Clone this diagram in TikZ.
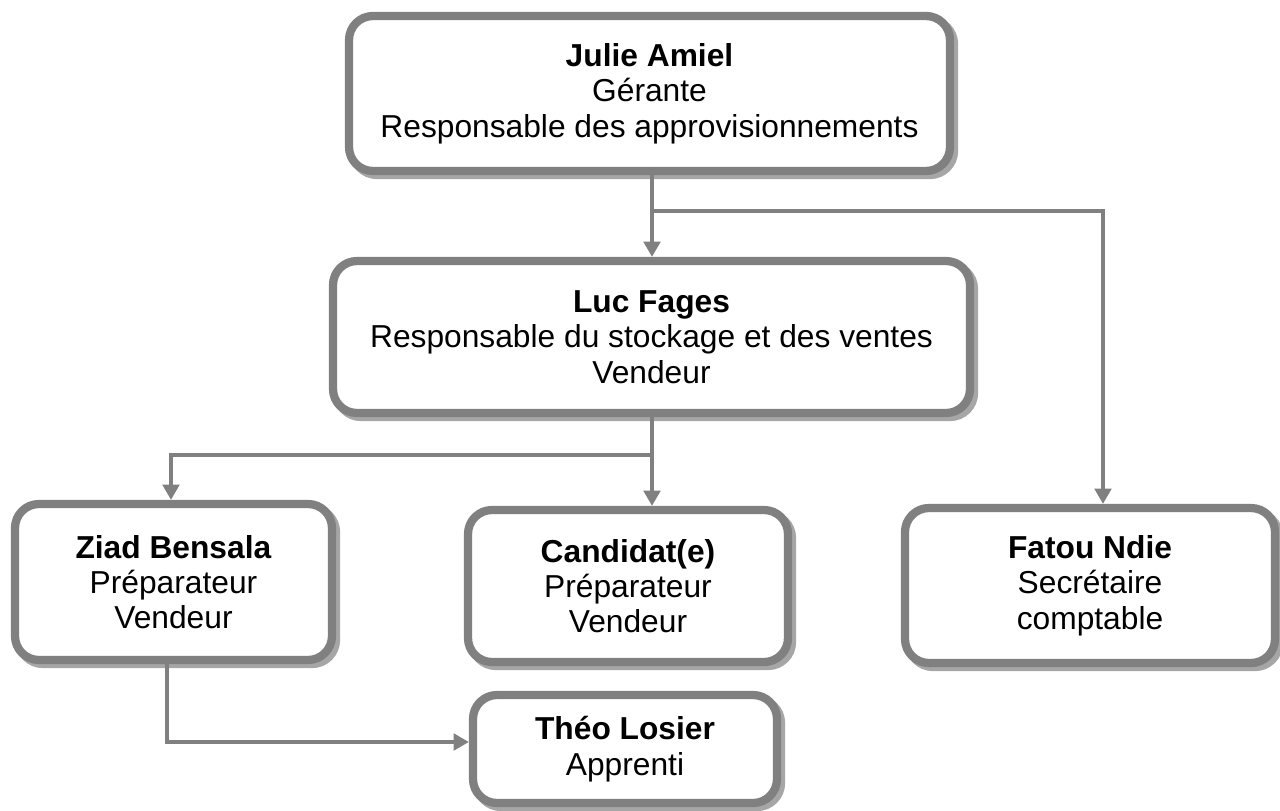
\documentclass[tikz,border=0pt]{standalone}
\usepackage{fontspec}
\setmainfont{Liberation Sans}
\usetikzlibrary{arrows.meta,shadows}
\definecolor{bordc}{RGB}{128,128,128}
\definecolor{shadc}{RGB}{166,166,166}
\tikzset{
  person/.style={draw=bordc, line width=6.2pt, fill=white, rounded corners=18pt,
    align=center, inner sep=0pt, font=\fontsize{23.8pt}{26.5pt}\selectfont,
    general shadow={shadow xshift=3pt, shadow yshift=-3pt, draw=shadc, line width=6.2pt, fill=none}},
  link/.style={draw=bordc, line width=2.5pt},
  arr/.style={link, -{Triangle[width=12.5pt,length=11.5pt]}}
}
\begin{document}
\begin{tikzpicture}[x=0.75pt,y=-0.75pt]
\useasboundingbox (0,0) rectangle (1280,810);
\node[person, minimum width=601*0.75pt, minimum height=155*0.75pt] (julie) at (649.5,93.5)
  {\textbf{Julie Amiel}\\Gérante\\Responsable des approvisionnements};
\node[person, minimum width=637*0.75pt, minimum height=152*0.75pt] (luc) at (651.5,337)
  {\textbf{Luc Fages}\\Responsable du stockage et des ventes\\Vendeur};
\node[person, minimum width=317*0.75pt, minimum height=156*0.75pt] (ziad) at (173.5,582)
  {\textbf{Ziad Bensala}\\Préparateur\\Vendeur};
\node[person, minimum width=320*0.75pt, minimum height=152*0.75pt] (cand) at (628,586)
  {\textbf{Candidat(e)}\\Préparateur\\Vendeur};
\node[person, minimum width=370*0.75pt, minimum height=155*0.75pt] (fatou) at (1090,585.5)
  {\textbf{Fatou Ndie}\\Secrétaire\\comptable};
\node[person, minimum width=304*0.75pt, minimum height=108*0.75pt] (theo) at (625,749)
  {\textbf{Théo Losier}\\Apprenti};
\coordinate (j1) at (652,211);
\coordinate (f) at (1103,211);
\coordinate (j2) at (652,455);
\coordinate (z) at (171,455);
\coordinate (t) at (167,742);
\draw[link] (julie.south -| j1) -- (j1);
\draw[arr] (j1) -- (luc.north -| j1);
\draw[arr] (j1) -- (f) -- (fatou.north -| f);
\draw[arr] (luc.south -| j2) -- (cand.north -| j2);
\draw[arr] (j2) -- (z) -- (ziad.north -| z);
\draw[arr] (ziad.south -| t) |- (theo.west |- t);
\end{tikzpicture}
\end{document}
